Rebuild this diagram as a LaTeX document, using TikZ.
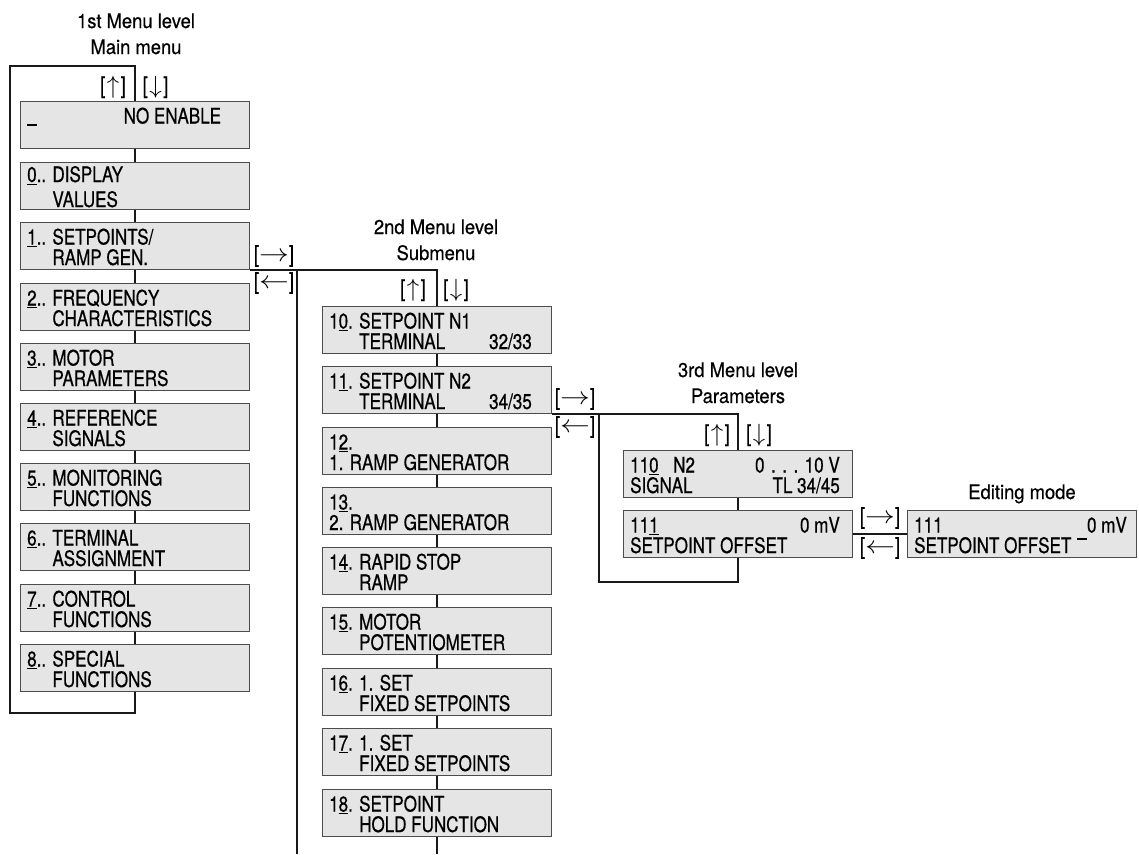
\documentclass[tikz,border=0pt]{standalone}
\usepackage{fontspec}
\setmainfont{TeX Gyre Heros}[FakeStretch=0.8,FakeBold=0.6]
\newfontfamily\ttlfam{TeX Gyre Heros}[FakeStretch=0.92,FakeBold=0.5]
\newcommand\bxfont{\fontsize{21.3}{24}\selectfont}
\newcommand\kyfont{\fontsize{23}{26}\selectfont}
\newcommand\tlfont{\ttlfam\fontsize{20}{24}\selectfont}
\newcommand\udl[1]{\underline{#1}}
\newcommand\kup{[\kern1.5pt$\uparrow$\kern1.5pt]}
\newcommand\kdown{[\kern1.5pt$\downarrow$\kern1.5pt]}
\newcommand\kright{[\scalebox{1.2}[1]{$\rightarrow$}]}
\newcommand\kleft{[\scalebox{1.2}[1]{$\leftarrow$}]}
\newcommand\uscore[1]{\rule[#1]{10pt}{1.3pt}}
\tikzset{
  mbox/.style={rectangle, draw=black!70, fill=black!10, line width=1pt, inner sep=0pt, anchor=north west, minimum height=47pt},
  btxt/.style={inner sep=0pt, font=\bxfont},
  lnk/.style={draw=black!90, line width=1.3pt},
  keyl/.style={inner sep=0pt, font=\kyfont},
  ttl/.style={inner sep=0pt, font=\tlfont, anchor=base},
}
\newcommand\mkbox[6]{%
  \node[mbox, minimum width=#4pt] (#1) at (#2,#3) {};
  \node[btxt, anchor=base west] (#1a) at ([xshift=7pt,yshift=-22.5pt]#1.north west) {#5};
  \node[btxt, anchor=base west] (#1b) at ([xshift=7pt,yshift=-43pt]#1.north west) {#6};
}
\begin{document}
\begin{tikzpicture}[x=1pt,y=-1pt]
\useasboundingbox (0,0) rectangle (1139,854);

% titles
\node[ttl] (t1a) at (136,28) {1st Menu level};
\node[ttl] (t1b) at (136,54) {Main menu};
\node[ttl] (t2a) at (436,234) {2nd Menu level};
\node[ttl] (t2b) at (436,260) {Submenu};
\node[ttl] (t3a) at (738,377) {3rd Menu level};
\node[ttl] (t3b) at (738,403) {Parameters};
\node[ttl] (t4) at (1022,499) {Editing mode};

% column 1
\node[mbox, minimum width=229pt] (mb) at (20,101) {};
\node[btxt, anchor=base west] (mbu) at ([xshift=7pt,yshift=-22.5pt]mb.north west) {\uscore{-2.2pt}};
\node[btxt, anchor=base west] (mbt) at ([xshift=103.5pt,yshift=-22.5pt]mb.north west) {NO ENABLE};
\node[mbox, minimum width=229pt] (m0) at (20,162) {};
\node[btxt, anchor=base west] (m0a) at ([xshift=7pt,yshift=-20pt]m0.north west) {\udl{0}.. DISPLAY};
\node[btxt, anchor=base west] (m0b) at ([xshift=7pt,yshift=-45pt]m0.north west) {\hphantom{0.. }VALUES};
\mkbox{m1}{20}{222}{229}{\udl{1}.. SETPOINTS/}{\hphantom{1.. }RAMP GEN.}
\mkbox{m2}{20}{283}{229}{\udl{2}.. FREQUENCY}{\hphantom{2.. }CHARACTERISTICS}
\mkbox{m3}{20}{343}{229}{\udl{3}.. MOTOR}{\hphantom{3.. }PARAMETERS}
\mkbox{m4}{20}{403}{229}{\udl{4}.. REFERENCE}{\hphantom{4.. }SIGNALS}
\mkbox{m5}{20}{463}{229}{\udl{5}.. MONITORING}{\hphantom{5.. }FUNCTIONS}
\mkbox{m6}{20}{523}{229}{\udl{6}.. TERMINAL}{\hphantom{6.. }ASSIGNMENT}
\mkbox{m7}{20}{584}{229}{\udl{7}.. CONTROL}{\hphantom{7.. }FUNCTIONS}
\mkbox{m8}{20}{644}{229}{\udl{8}.. SPECIAL}{\hphantom{8.. }FUNCTIONS}

% column 2
\mkbox{s10}{322}{306}{229}{1\udl{0}. SETPOINT N1}{\hphantom{10. }TERMINAL}
\node[btxt, anchor=base east] (s10c) at ([xshift=-20pt,yshift=-43pt]s10.north east) {32/33};
\mkbox{s11}{322}{366}{229}{1\udl{1}. SETPOINT N2}{\hphantom{11. }TERMINAL}
\node[btxt, anchor=base east] (s11c) at ([xshift=-20pt,yshift=-43pt]s11.north east) {34/35};
\mkbox{s12}{322}{427}{229}{1\udl{2}.}{1. RAMP GENERATOR}
\mkbox{s13}{322}{487}{229}{1\udl{3}.}{2. RAMP GENERATOR}
\mkbox{s14}{322}{547}{229}{1\udl{4}. RAPID STOP}{\hphantom{14. }RAMP}
\mkbox{s15}{322}{607}{229}{1\udl{5}. MOTOR}{\hphantom{15. }POTENTIOMETER}
\mkbox{s16}{322}{668}{229}{1\udl{6}. 1. SET}{\hphantom{16. }FIXED SETPOINTS}
\mkbox{s17}{322}{728}{229}{1\udl{7}. 1. SET}{\hphantom{17. }FIXED SETPOINTS}
\mkbox{s18}{322}{789}{229}{1\udl{8}. SETPOINT}{\hphantom{18. }HOLD FUNCTION}

% column 3
\mkbox{p110}{623}{450}{229}{11\udl{0}}{SIGNAL}
\node[btxt, anchor=base west] (p110n) at ([xshift=50pt,yshift=-22.5pt]p110.north west) {N2};
\node[btxt, anchor=base east] (p110c) at ([xshift=-13pt,yshift=-22.5pt]p110.north east) {0\hspace{6.5pt}.\hspace{6.5pt}.\hspace{6.5pt}.\hspace{6.5pt}10 V};
\node[btxt, anchor=base east] (p110d) at ([xshift=-13pt,yshift=-43pt]p110.north east) {TL 34/45};
\mkbox{p111}{623}{510}{229}{11\udl{1}}{SETPOINT OFFSET}
\node[btxt, anchor=base east] (p111c) at ([xshift=-13pt,yshift=-22.5pt]p111.north east) {0 mV};

% editing mode
\mkbox{ed}{907}{510}{229}{111}{SETPOINT OFFSET}
\node[btxt, anchor=base east] (edc) at ([xshift=-10pt,yshift=-22.5pt]ed.north east) {\uscore{-7pt}0 mV};

% coordinates
\coordinate (c1top) at (135,66);
\coordinate (c1bl) at (10,713);
\coordinate (c2ret) at (297,854);
\coordinate (c2bot) at (436,854);
\coordinate (c3ret) at (599,582);

% column 1 connectors
\draw[lnk] (m8.south) |- (c1bl) |- (mb.north |- c1top) -- (mb.north);
\draw[lnk] (mb.south) -- (m0.north);
\draw[lnk] (m0.south) -- (m1.north);
\draw[lnk] (m1.south) -- (m2.north);
\draw[lnk] (m2.south) -- (m3.north);
\draw[lnk] (m3.south) -- (m4.north);
\draw[lnk] (m4.south) -- (m5.north);
\draw[lnk] (m5.south) -- (m6.north);
\draw[lnk] (m6.south) -- (m7.north);
\draw[lnk] (m7.south) -- (m8.north);

% level 1 -> level 2
\draw[lnk] (m1.south east) -- (m1.south east -| s10.north) -- (s10.north);
\draw[lnk] (m1.south east -| c2ret) -- (c2ret);

% column 2 connectors
\draw[lnk] (s10.south) -- (s11.north);
\draw[lnk] (s11.south) -- (s12.north);
\draw[lnk] (s12.south) -- (s13.north);
\draw[lnk] (s13.south) -- (s14.north);
\draw[lnk] (s14.south) -- (s15.north);
\draw[lnk] (s15.south) -- (s16.north);
\draw[lnk] (s16.south) -- (s17.north);
\draw[lnk] (s17.south) -- (s18.north);
\draw[lnk] (s18.south) -- (s18.south |- c2bot);

% level 2 -> level 3
\draw[lnk] (s11.south east) -- (s11.south east -| p110.north) -- (p110.north);
\draw[lnk] (s11.south east -| c3ret) -- (c3ret) -| (p111.south);
\draw[lnk] (p110.south) -- (p111.north);

% level 3 -> editing
\draw[lnk] (p111.east) -- (ed.west);

% key labels
\node[keyl] (k1u) at (113,87) {\kup};
\node[keyl] (k1d) at (155.5,87) {\kdown};
\node[keyl] (k1r) at (274,256) {\kright};
\node[keyl] (k1l) at (274,283) {\kleft};
\node[keyl] (k2u) at (413,290) {\kup};
\node[keyl] (k2d) at (456,290) {\kdown};
\node[keyl] (k2r) at (575,399) {\kright};
\node[keyl] (k2l) at (575,427) {\kleft};
\node[keyl] (k3u) at (717,435) {\kup};
\node[keyl] (k3d) at (759,435) {\kdown};
\node[keyl] (k3r) at (880,518) {\kright};
\node[keyl] (k3l) at (880,548) {\kleft};
\end{tikzpicture}
\end{document}
